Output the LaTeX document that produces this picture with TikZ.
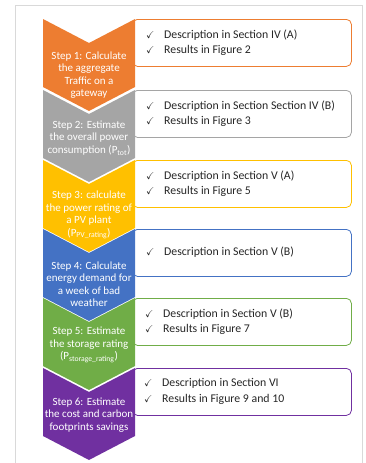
\documentclass[tikz,border=0pt]{standalone}
\usepackage{fontspec}
\usepackage{amssymb}
\setmainfont{Carlito}
\definecolor{cOrange}{HTML}{ED7D31}
\definecolor{cGray}{HTML}{A5A5A5}
\definecolor{cGold}{HTML}{FFC000}
\definecolor{cBlue}{HTML}{4472C4}
\definecolor{cGreen}{HTML}{70AD47}
\definecolor{cPurple}{HTML}{7030A0}
\definecolor{cFrame}{HTML}{D9D9D9}
\newcommand\ck{\makebox[18pt][l]{\fontsize{10}{10}\selectfont$\checkmark$}}
\begin{document}
\begin{tikzpicture}[x=1pt,y=-1pt,
  boxframe/.style={draw=#1, line width=0.8pt, fill=white, rounded corners=5pt,
    anchor=north west, minimum width=219pt, minimum height=47pt, inner sep=0pt},
  steptext/.style={text=white, align=center, font=\fontsize{11}{12.5}\selectfont, inner sep=0pt},
  desc/.style={anchor=west, align=left, font=\fontsize{11.8}{15.5}\selectfont, inner sep=0pt, text=black!85}]
\useasboundingbox (0,0) rectangle (365,463);
\draw[cFrame, line width=0.6pt] (15,480) -- (15,5) -- (362,5) -- (362,480);
\foreach \t/\c/\n in {19/cOrange/1, 90/cGray/2, 160/cGold/3, 229/cBlue/4, 298/cGreen/5, 368/cPurple/6} {
  \node[boxframe=\c] (box\n) at (132,\t) {};
  \fill[\c] (43,\t) -- (89,{\t+24}) -- (135,\t) -- (135,{\t+68}) -- (89,{\t+92}) -- (43,{\t+68}) -- cycle;
}
\node[steptext] (s1) at (89,75) {Step 1: Calculate\\the aggregate\\Traffic on a\\gateway};
\node[steptext] (s2) at (89,138) {Step 2: Estimate\\the overall power\\consumption (P\textsubscript{tot})};
\node[steptext] (s3) at (89,215) {Step 3: calculate\\the power rating of\\a PV plant\\(P\textsubscript{PV\_rating})};
\node[steptext] (s4) at (89,284) {Step 4: Calculate\\energy demand for\\a week of bad\\weather};
\node[steptext] (s5) at (89,345) {Step 5: Estimate\\the storage rating\\(P\textsubscript{storage\_rating})};
\node[steptext] (s6) at (89,415) {Step 6: Estimate\\the cost and carbon\\footprints savings};
\node[desc] (d1) at (146,42.5) {\ck Description in Section IV (A)\\\ck Results in Figure 2};
\node[desc] (d2) at (146,113.5) {\ck Description in Section Section IV (B)\\\ck Results in Figure 3};
\node[desc] (d3) at (146,183.5) {\ck Description in Section V (A)\\\ck Results in Figure 5};
\node[desc] (d4) at (146,252.5) {\ck Description in Section V (B)};
\node[desc] (d5) at (145,321.5) {\ck Description in Section V (B)\\\ck Results in Figure 7};
\node[desc] (d6) at (144,391.5) {\ck Description in Section VI\\\ck Results in Figure 9 and 10};
\end{tikzpicture}
\end{document}
